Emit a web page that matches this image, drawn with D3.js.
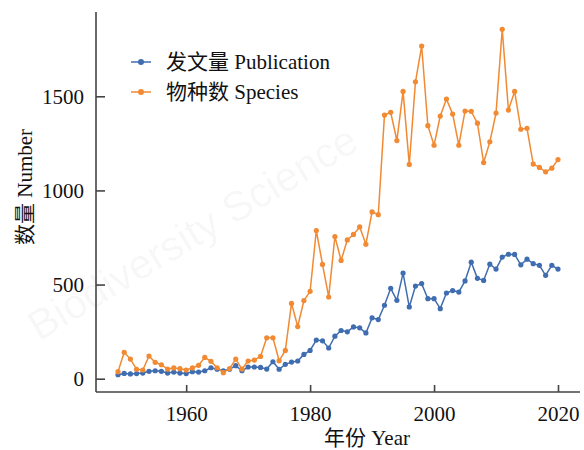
<!DOCTYPE html>
<html>
<head>
<meta charset="utf-8">
<script src="https://cdn.jsdelivr.net/npm/d3@7"></script>
<style>
  html, body { margin: 0; padding: 0; background: #fff; }
  svg { display: block; }
  text { font-family: "Liberation Serif", "Times New Roman", "Noto Sans CJK SC", serif; }
</style>
</head>
<body>
<svg id="chart" width="584" height="450"></svg>
<script>
const years = d3.range(1949, 2021);
const publication = [
  21, 28, 25, 27, 30, 39, 42, 39, 30, 35,
  30, 27, 37, 35, 42, 58, 50, 42, 50, 69,
  42, 62, 62, 60, 51, 90, 50, 76, 88, 94,
  129, 150, 205, 201, 163, 226, 256, 249, 275, 270,
  243, 323, 314, 390, 480, 416, 561, 381, 492, 505,
  425, 425, 372, 455, 468, 460, 519, 619, 533, 522,
  608, 582, 646, 661, 660, 605, 635, 611, 602, 549,
  602, 582
];
const species = [
  37, 140, 104, 50, 46, 120, 87, 74, 51, 57,
  53, 46, 57, 71, 113, 92, 58, 32, 53, 104,
  51, 94, 99, 118, 217, 217, 95, 150, 400, 277,
  415, 464, 787, 607, 434, 755, 628, 737, 766, 806,
  714, 886, 871, 1400, 1415, 1265, 1526, 1138, 1577, 1767,
  1344, 1240, 1395, 1485, 1406, 1240, 1422, 1420, 1357, 1148,
  1258, 1411, 1856, 1427, 1526, 1325, 1330, 1140, 1122, 1099,
  1118, 1164
];
const xTicks = [1960, 1980, 2000, 2020];
const yTicks = [0, 500, 1000, 1500];
const seriesNames = ["发文量 Publication", "物种数 Species"];
const seriesColors = ["#3f6db0", "#f18a32"];

const svg = d3.select("#chart");
const pLeft = 96, pRight = 580, pTop = 12, pBottom = 392;

// watermark
svg.append("text")
  .attr("x", 200).attr("y", 245)
  .attr("transform", "rotate(-31 200 245)")
  .attr("text-anchor", "middle")
  .style("font-family", "'Liberation Sans', 'DejaVu Sans', sans-serif")
  .style("font-size", "42px")
  .attr("fill", "#000").attr("fill-opacity", 0.04)
  .text("Biodiversity Science");

const allVals = publication.concat(species);
const yMin = d3.min(allVals), yMax = d3.max(allVals);
const ym = (yMax - yMin) * 0.05;
const xm = (d3.max(years) - d3.min(years)) * 0.05;

const x = d3.scaleLinear().domain([d3.min(years) - xm, d3.max(years) + xm]).range([pLeft, pRight]);
const y = d3.scaleLinear().domain([yMin - ym, yMax + ym]).range([pBottom, pTop]);

// axes
const xAxis = d3.axisBottom(x).tickValues(xTicks).tickFormat(d3.format("d")).tickSizeInner(-7).tickSizeOuter(0).tickPadding(14);
const yAxis = d3.axisLeft(y).tickValues(yTicks).tickFormat(d3.format("d")).tickSizeInner(-9).tickSizeOuter(0).tickPadding(12);

const gx = svg.append("g").attr("transform", `translate(0,${pBottom})`).call(xAxis);
const gy = svg.append("g").attr("transform", `translate(${pLeft},0)`).call(yAxis);
[gx, gy].forEach(g => {
  g.select(".domain").attr("stroke", "#444").attr("stroke-width", 1.6);
  g.selectAll(".tick line").attr("stroke", "#444").attr("stroke-width", 1.6);
  g.selectAll(".tick text").attr("fill", "#111")
    .style("font-family", "'Liberation Serif', 'Times New Roman', serif")
    .style("font-size", "21px");
});
gx.select(".domain").attr("d", `M${pLeft},0H${pRight}`);
gy.select(".domain").attr("d", `M0,${pBottom}V${pTop}`);
gx.selectAll(".tick text").attr("dy", "0.71em");

// axis labels
svg.append("text")
  .attr("x", 367).attr("y", 445)
  .attr("text-anchor", "middle")
  .attr("fill", "#111")
  .style("font-size", "21px")
  .text("年份 Year");
svg.append("text")
  .attr("transform", "translate(32,187) rotate(-90)")
  .attr("text-anchor", "middle")
  .attr("fill", "#111")
  .style("font-size", "21px")
  .text("数量 Number");

// series
const seriesData = [publication, species];
const line = d3.line().x((d, i) => x(years[i])).y(d => y(d));
seriesData.forEach((vals, si) => {
  const g = svg.append("g");
  g.append("path").datum(vals)
    .attr("d", line)
    .attr("fill", "none")
    .attr("stroke", seriesColors[si])
    .attr("stroke-width", 1.5);
  g.selectAll("circle").data(vals).join("circle")
    .attr("cx", (d, i) => x(years[i]))
    .attr("cy", d => y(d))
    .attr("r", 2.6)
    .attr("fill", seriesColors[si]);
});

// legend
const legend = svg.append("g");
seriesNames.forEach((name, i) => {
  const ly = 62 + i * 30;
  legend.append("line").attr("x1", 131).attr("x2", 151).attr("y1", ly).attr("y2", ly)
    .attr("stroke", seriesColors[i]).attr("stroke-width", 1.5);
  legend.append("circle").attr("cx", 141).attr("cy", ly).attr("r", 3).attr("fill", seriesColors[i]);
  legend.append("text").attr("x", 166).attr("y", ly).attr("dy", "0.35em")
    .attr("fill", "#111").style("font-size", "21px").text(name);
});
</script>
</body>
</html>
